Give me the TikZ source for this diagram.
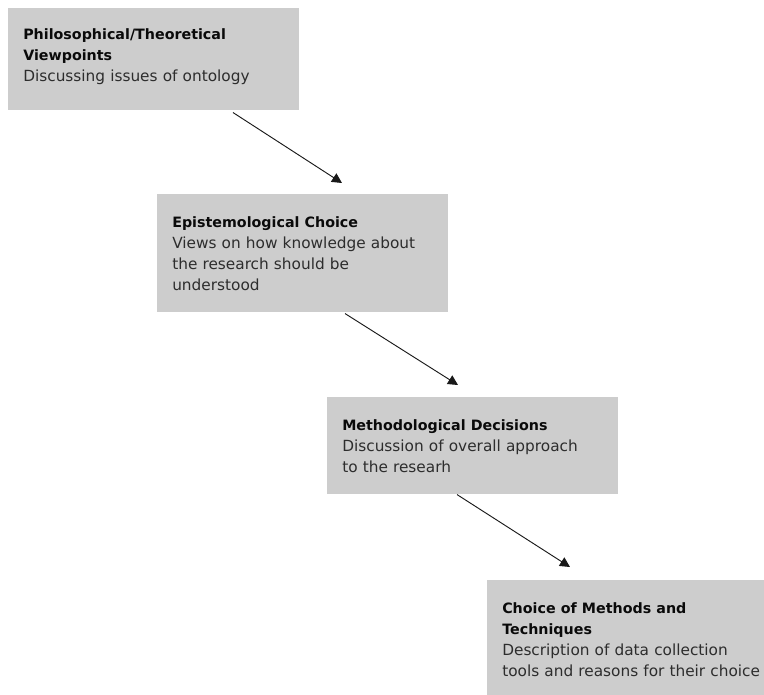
\documentclass[tikz,border=0pt]{standalone}
\usepackage{fontspec}
\setmainfont{DejaVu Sans}
\usetikzlibrary{positioning, arrows.meta, calc}
\definecolor{boxgris}{RGB}{205, 205, 205}
\definecolor{textgris}{RGB}{45, 45, 45}
\definecolor{titlegris}{RGB}{10, 10, 10}
\newcommand{\ttl}[1]{{\fontsize{10.7}{15.75}\selectfont\bfseries\color{titlegris}#1}}
\tikzset{
    stage/.style={rectangle, fill=boxgris, anchor=north west, text=textgris, align=left,
        text width=195.5pt, inner xsep=11.25pt, font=\fontsize{11.5}{15.75}\selectfont},
    flow/.style={-{Triangle[length=7.5pt, width=7.5pt]}, line width=0.7pt, black!90},
}
\begin{document}
\begin{tikzpicture}[x=0.75pt, y=-0.75pt]
    \useasboundingbox (0,0) rectangle (764,694);

    \node [stage, minimum height=76.5pt, text depth=38pt] (phil) at (8,8)
        {\ttl{Philosophical/Theoretical}\\ \ttl{Viewpoints}\\ Discussing issues of ontology};
    \node [stage, minimum height=88.5pt] (epis) at (157,194)
        {\ttl{Epistemological Choice}\\ Views on how knowledge about\\ the research should be\\ understood};
    \node [stage, minimum height=72.75pt] (meth) at (327,397)
        {\ttl{Methodological Decisions}\\ Discussion of overall approach\\ to the researh};
    \node [stage, minimum height=88.5pt] (tech) at (487,580)
        {\ttl{Choice of Methods and}\\ \ttl{Techniques}\\ Description of data collection\\ tools and reasons for their choice};

    \draw [flow] ($(phil.south west)+(225,2)$) -- ($(epis.north west)+(185,-11)$);
    \draw [flow] ($(epis.south west)+(188,1)$) -- ($(meth.north west)+(131,-12)$);
    \draw [flow] ($(meth.south west)+(130,0)$) -- ($(tech.north west)+(83,-13)$);
\end{tikzpicture}
\end{document}
